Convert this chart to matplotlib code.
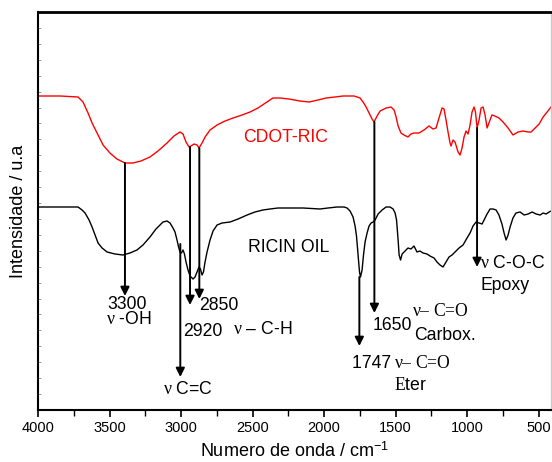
import numpy as np
import matplotlib
matplotlib.use("Agg")
import matplotlib.pyplot as plt
from matplotlib.ticker import MultipleLocator

plt.rcParams['font.family'] = ['Liberation Sans', 'DejaVu Sans']
plt.rcParams['mathtext.fontset'] = 'custom'
plt.rcParams['mathtext.rm'] = 'Liberation Serif'
plt.rcParams['mathtext.sf'] = 'Liberation Sans'
plt.rcParams['mathtext.it'] = 'Liberation Serif:italic'

# ---- data (wavenumber in cm-1, intensity in arbitrary units) ----
wn_cdot = [4000, 3846, 3720, 3685, 3650, 3622, 3587, 3545, 3497, 3448, 3392, 3336, 3280,
           3217, 3161, 3098, 3049, 3007, 2986, 2965, 2944, 2930, 2909, 2888, 2874, 2853,
           2832, 2797, 2748, 2692, 2636, 2573, 2517, 2462, 2399, 2357, 2308, 2245, 2168,
           2105, 2042, 1986, 1923, 1867, 1790, 1748, 1727, 1706, 1685, 1664, 1650, 1629,
           1608, 1566, 1531, 1510, 1496, 1482, 1462, 1441, 1413, 1392, 1371, 1336, 1301,
           1266, 1238, 1217, 1196, 1175, 1161, 1147, 1133, 1119, 1112, 1098, 1084, 1063,
           1049, 1035, 1021, 1007, 993, 979, 965, 951, 941, 930, 916, 902, 888, 874, 860,
           847, 826, 805, 777, 748, 713, 679, 643, 608, 573, 552, 524, 496, 468, 440, 413]
int_cdot = [314, 314, 313, 308, 297, 287, 277, 265, 257, 251, 247, 247, 249,
            253, 259, 267, 274, 278, 276, 268, 263, 264, 266, 265, 262, 267,
            273, 280, 285, 289, 292, 295, 298, 302, 308, 312, 312, 311, 309,
            308, 310, 312, 313, 314, 314, 312, 308, 303, 297, 291, 288, 294,
            299, 302, 303, 300, 293, 284, 277, 275, 273, 276, 277, 277, 280,
            284, 281, 282, 292, 302, 301, 290, 278, 267, 264, 270, 268, 258,
            255, 262, 273, 279, 276, 285, 298, 303, 298, 282, 290, 302, 303, 295, 282,
            287, 295, 294, 292, 288, 282, 275, 278, 279, 278, 278, 282, 286, 293, 298, 303]

wn_ricin = [4000, 3846, 3720, 3692, 3671, 3643, 3622, 3601, 3580, 3552, 3517, 3462, 3406,
            3357, 3308, 3266, 3217, 3175, 3126, 3098, 3077, 3056, 3042, 3028, 3017, 3007,
            2997, 2986, 2976, 2965, 2951, 2937, 2916, 2902, 2888, 2874, 2864, 2853, 2843,
            2832, 2818, 2797, 2776, 2748, 2713, 2657, 2601, 2538, 2483, 2427, 2378, 2322,
            2259, 2203, 2147, 2091, 2028, 1972, 1909, 1860, 1839, 1818, 1797, 1783, 1773,
            1762, 1752, 1745, 1734, 1724, 1713, 1699, 1685, 1671, 1657, 1643, 1622, 1594,
            1566, 1538, 1517, 1503, 1493, 1482, 1475, 1465, 1454, 1433, 1413, 1392, 1371,
            1350, 1329, 1308, 1280, 1259, 1231, 1210, 1189, 1168, 1147, 1126, 1105, 1084,
            1056, 1028, 1000, 979, 958, 937, 916, 895, 881, 860, 839, 818, 797, 777, 756,
            741, 727, 713, 699, 679, 658, 629, 601, 573, 545, 517, 489, 468, 447, 426, 413]
int_ricin = [203, 203, 203, 200, 197, 190, 183, 175, 167, 162, 158, 156, 155,
             157, 160, 165, 173, 181, 188, 189, 187, 182, 178, 170, 163, 158,
             157, 160, 156, 148, 140, 134, 131, 133, 138, 143, 141, 135, 138,
             148, 158, 170, 179, 185, 187, 188, 191, 195, 198, 200, 201, 202,
             202, 202, 202, 201.5, 201, 202, 203, 203, 202, 199, 193, 184, 174,
             155, 138, 133, 140, 155, 168, 177, 184, 187, 188, 190, 196, 200,
             203, 203, 201, 197, 190, 170, 155, 150, 156, 159, 162, 161, 164,
             158, 159, 157, 156, 154, 152, 148, 145, 143, 148, 153, 155, 158,
             162, 165, 172, 177, 184, 188, 187, 186, 190, 196, 201, 201, 200, 195, 186,
             177, 170, 175, 183, 192, 197, 198, 195, 196, 198, 196, 195, 197, 196, 198, 199]

# peak markers: (wavenumber, start intensity, arrow tip intensity)
arrow_wn = [3392, 2937, 2872, 3005, 1753, 1648, 930]
arrow_start = [247, 263, 262, 166, 133, 288, 282]
arrow_tip = [114, 105, 111, 33, 64, 97, 143]

xticks = [4000, 3500, 3000, 2500, 2000, 1500, 1000, 500]

fig = plt.figure(figsize=(5.52, 4.62), dpi=100)
ax = fig.add_axes([38/552, 1 - 410/462, 513/552, 398/462])

ax.plot(wn_cdot, int_cdot, color='#ff0000', lw=1.0)
ax.plot(wn_ricin, int_ricin, color='black', lw=1.0)

for w, s, t in zip(arrow_wn, arrow_start, arrow_tip):
    ax.annotate('', xy=(w, t), xytext=(w, s),
                arrowprops=dict(arrowstyle='-|>', color='black', lw=1.4,
                                mutation_scale=13, shrinkA=0, shrinkB=0))

ax.set_xlim(4000, 413)
ax.set_ylim(0, 398)
ax.set_xticks(xticks)
ax.xaxis.set_minor_locator(MultipleLocator(250))
ax.set_yticks(np.arange(0, 398, 15.92))
ax.tick_params(axis='x', which='major', direction='out', length=5, width=1.2,
               labelsize=10.5, pad=3, top=False)
ax.tick_params(axis='x', which='minor', direction='out', length=4, width=1.0, top=False)
ax.tick_params(axis='y', which='major', direction='in', length=2.5, width=0.6,
               color='#888888', labelleft=False, right=False)

for sp in ['left', 'bottom']:
    ax.spines[sp].set_linewidth(1.5)
ax.spines['top'].set_linewidth(2.0)
ax.spines['right'].set_linewidth(1.0)
ax.spines['right'].set_color('#cccccc')

ax.set_xlabel('Numero de onda / cm$^{\\mathsf{-1}}$', fontsize=13, labelpad=5)
ax.set_ylabel('Intensidade / u.a', fontsize=13, labelpad=8)

fs = 12.7
ax.text(2566, 272, 'CDOT-RIC', color='#ff0000', fontsize=fs, ha='left', va='center')
ax.text(2531, 162, 'RICIN OIL', color='black', fontsize=fs, ha='left', va='center')
ax.text(3378, 105.5, '3300', fontsize=fs, ha='center', va='center')
ax.text(3364, 90, '$\\mathrm{\\nu}$ -OH', fontsize=fs, ha='center', va='center')
ax.text(2874, 104, '2850', fontsize=fs, ha='left', va='center')
ax.text(2986, 79, '2920', fontsize=fs, ha='left', va='center')
ax.text(2636, 80, '$\\mathrm{\\nu}$ \u2013 C-H', fontsize=fs, ha='left', va='center')
ax.text(2955, 20.5, '$\\mathrm{\\nu}$ C=C', fontsize=fs, ha='center', va='center')
ax.text(1804, 46, '1747 ', fontsize=fs, ha='left', va='center')
ax.text(1510, 46, '$\\mathrm{\\nu}$\u2013 C=O', fontsize=fs, ha='left', va='center',
        family=['Liberation Serif'])
ax.text(1392, 24, '$\\mathrm{E}$ter', fontsize=fs, ha='center', va='center')
ax.text(1657, 84, '1650', fontsize=fs, ha='left', va='center')
ax.text(1385, 99, '$\\mathrm{\\nu}$\u2013 C=O', fontsize=fs, ha='left', va='center',
        family=['Liberation Serif'])
ax.text(1371, 75, 'Carbox.', fontsize=fs, ha='left', va='center')
ax.text(909, 146, '$\\mathrm{\\nu}$ C-O-C', fontsize=fs, ha='left', va='center')
ax.text(731, 124, 'Epoxy', fontsize=fs, ha='center', va='center')

fig.savefig('out.png', dpi=100)
